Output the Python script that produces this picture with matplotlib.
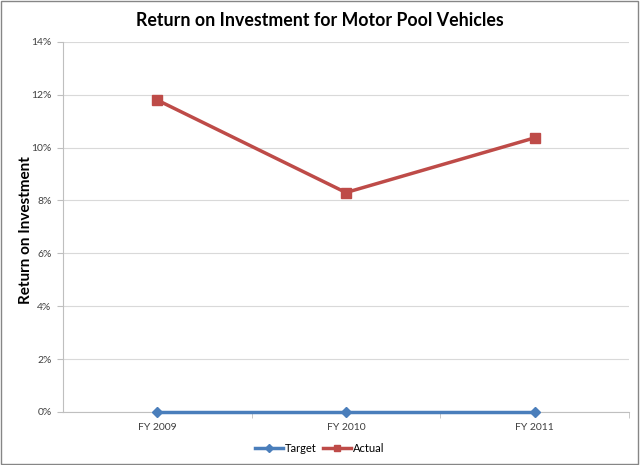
import matplotlib
matplotlib.use("Agg")
import matplotlib.pyplot as plt
from matplotlib.ticker import PercentFormatter, MultipleLocator
from matplotlib.patches import Rectangle

# datos
years = ["FY 2009", "FY 2010", "FY 2011"]
target = [0.0, 0.0, 0.0]
actual = [11.8, 8.3, 10.37]

plt.rcParams['font.family'] = ['Lato', 'DejaVu Sans']

fig = plt.figure(figsize=(6.4, 4.65), dpi=100)
ax = fig.add_axes([0.098, 0.114, 0.885, 0.796])

x = list(range(len(years)))
ax.plot(x, target, color='#4A7EBB', lw=2.5, marker='D', ms=5, label='Target',
        zorder=4, clip_on=False)
ax.plot(x, actual, color='#BE4B48', lw=2.5, marker='s', ms=6.5, label='Actual',
        zorder=3, clip_on=False)

ax.set_xlim(-0.5, 2.5)
ax.set_ylim(0, 14)
ax.yaxis.set_major_locator(MultipleLocator(2))
ax.yaxis.set_major_formatter(PercentFormatter(decimals=0))
ax.set_xticks(x)
ax.set_xticklabels(years)
ax.set_xticks([0.5, 1.5, 2.5], minor=True)
ax.tick_params(axis='x', which='major', length=0, labelsize=7.5, colors='#404040', pad=8)
ax.tick_params(axis='x', which='minor', length=4, color='#BFBFBF')
ax.tick_params(axis='y', length=4, color='#BFBFBF', labelsize=7.5, labelcolor='#404040', pad=4)

ax.grid(axis='y', color='#D9D9D9', lw=0.8)
ax.set_axisbelow(True)
for s in ['top', 'right']:
    ax.spines[s].set_visible(False)
ax.spines['left'].set_color('#BFBFBF')
ax.spines['bottom'].set_color('#BFBFBF')

fig.text(0.041, 0.505, "Return on Investment", rotation=90, ha='center', va='center',
         fontsize=11, fontweight='bold')
fig.text(0.5, 0.955, "Return on Investment for Motor Pool Vehicles",
         ha='center', va='center', fontsize=12.8, fontweight='bold')

fig.legend(loc='center', bbox_to_anchor=(0.5, 0.035), ncol=2, frameon=False,
           fontsize=8, handlelength=2.5, columnspacing=0.6, handletextpad=0.2,
           markerscale=0.75)

# borde exterior
fig.patches.append(Rectangle((0.002, 0.003), 0.995, 0.994, transform=fig.transFigure,
                             fill=False, edgecolor='#868686', lw=1))

plt.savefig("out.png", dpi=100)
